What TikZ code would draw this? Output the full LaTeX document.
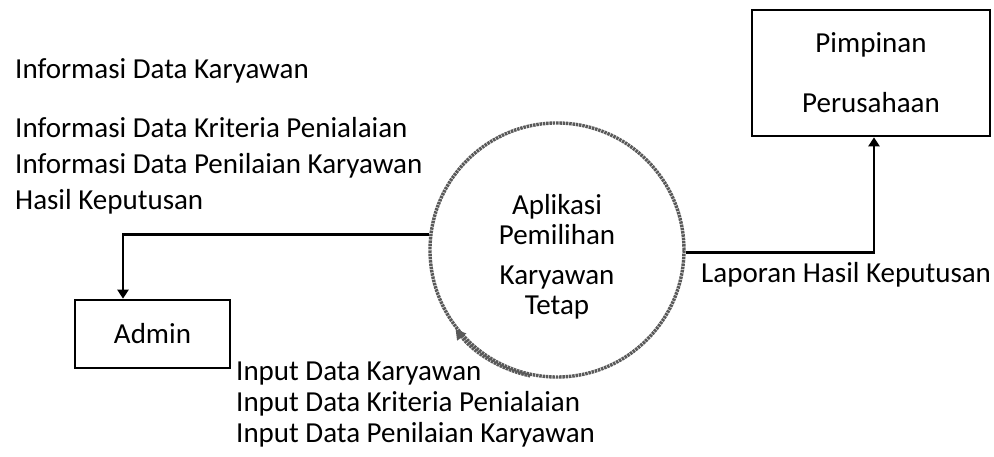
\documentclass[tikz,border=0pt]{standalone}
\usepackage{fontspec}
\setmainfont{Carlito}
\usetikzlibrary{arrows.meta}
\begin{document}
\begin{tikzpicture}[x=1pt,y=-1pt,
  every node/.style={font=\fontsize{29}{30}\selectfont},
  box/.style={draw, line width=2.6pt, inner sep=0pt},
  proc/.style={circle, draw=black!65, line width=3.4pt, dash pattern=on 2.5pt off 0.8pt, minimum size=254pt, inner sep=0pt, align=center},
  flow/.style={line width=2.8pt, -{Triangle[length=9pt,width=11pt]}},
  lbl/.style={anchor=base west, inner sep=0pt},
  ctr/.style={anchor=base, inner sep=0pt}]
\useasboundingbox (0,0) rectangle (994,457);
% process
\node[proc] (app) at (557,250) {};
\node[ctr] (t1) at (557,215) {Aplikasi};
\node[ctr] (t2) at (557,245) {Pemilihan};
\node[ctr] (t3) at (557,285) {Karyawan};
\node[ctr] (t4) at (557,315) {Tetap};
% entities
\node[box, minimum width=155pt, minimum height=68pt] (admin) at (152.5,334) {};
\node[ctr] (adminT) at (152.5,343) {Admin};
\node[box, minimum width=238pt, minimum height=126pt] (pimp) at (871,73) {};
\node[ctr] (p1) at (871,53) {Pimpinan};
\node[ctr] (p2) at (871,113) {Perusahaan};
% connectors
\draw[flow] (app.173) -| ([xshift=-29.5pt]admin.north);
\draw[flow] (app.-1) -| ([xshift=3pt]pimp.south);
\draw[draw=black!65, line width=3.4pt, dash pattern=on 2.5pt off 0.8pt, -{Triangle[length=10pt,width=11pt]}] (app.258) arc[start angle=258, end angle=218, radius=128.7pt];
% labels
\node[lbl] (l1) at (15,79) {Informasi Data Karyawan};
\node[lbl] (l2) at (15,138) {Informasi Data Kriteria Penialaian};
\node[lbl] (l3) at (15,174) {Informasi Data Penilaian Karyawan};
\node[lbl] (l4) at (15,210) {Hasil Keputusan};
\node[lbl] (r1) at (701,283) {Laporan Hasil Keputusan};
\node[lbl] (b1) at (236,380) {Input Data Karyawan};
\node[lbl] (b2) at (236,411) {Input Data Kriteria Penialaian};
\node[lbl] (b3) at (236,442) {Input Data Penilaian Karyawan};
\end{tikzpicture}
\end{document}
